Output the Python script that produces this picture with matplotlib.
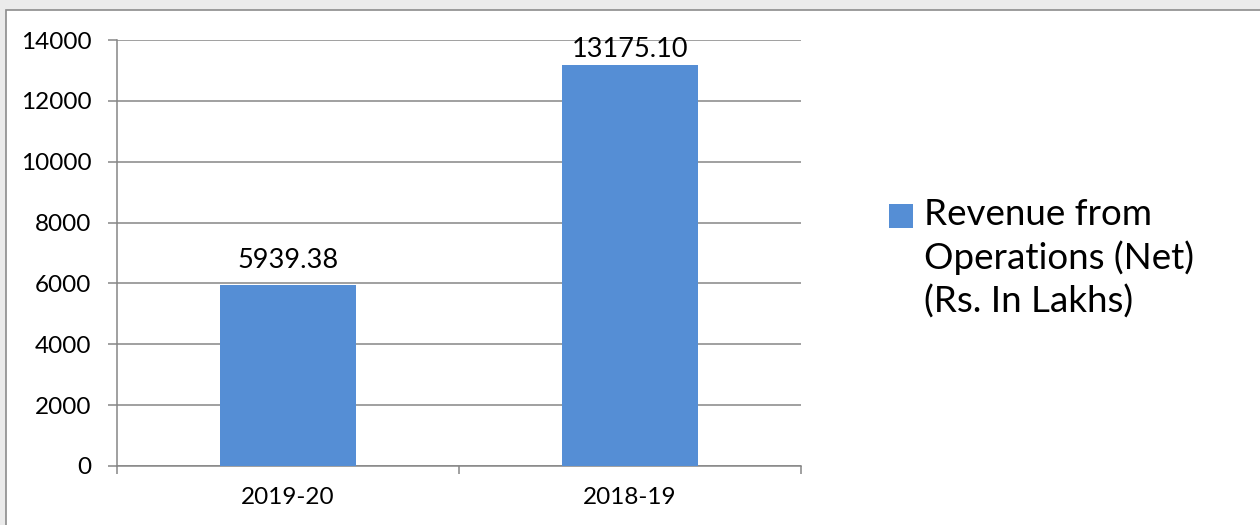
import matplotlib
matplotlib.use("Agg")
import matplotlib.pyplot as plt
from matplotlib.patches import Rectangle

plt.rcParams['font.family'] = ['Lato', 'DejaVu Sans']

categories = ["2019-20", "2018-19"]
values = [5939.38, 13175.10]
value_labels = ["5939.38", "13175.10"]
yticks = [0, 2000, 4000, 6000, 8000, 10000, 12000, 14000]
series_name = "Revenue from\nOperations (Net)\n(Rs. In Lakhs)"

W, H = 1260, 525
fig = plt.figure(figsize=(W / 100, H / 100), dpi=100)
fig.patch.set_facecolor("#EBEBEB")
bg = Rectangle((6 / W, -0.1), 1.2, 1 - 10 / H + 0.1,
               transform=fig.transFigure, facecolor="white",
               edgecolor="#8C8C8C", linewidth=1.2, zorder=-10)
fig.add_artist(bg)

ax = fig.add_axes([117 / W, 1 - 466 / H, (801 - 117) / W, (466 - 40) / H])
ax.set_zorder(1)
ax.set_facecolor("none")
bar_color = "#558ED5"
x = list(range(len(categories)))
bars = ax.bar(x, values, width=0.4, color=bar_color, zorder=3)

ax.set_xlim(-0.5, len(categories) - 0.5)
ax.set_ylim(0, 14000)
ax.set_yticks(yticks)
ax.set_yticklabels([str(v) for v in yticks], fontsize=17.5)
ax.yaxis.grid(True, color="#868686", linewidth=1.1, zorder=0)
ax.set_axisbelow(True)

ax.set_xticks(x)
ax.set_xticklabels(categories, fontsize=17.5)
ax.set_xticks([i - 0.5 for i in range(len(categories) + 1)], minor=True)
ax.tick_params(axis="x", which="major", length=0, pad=15)
ax.tick_params(axis="x", which="minor", length=6, width=1.1, color="#868686")
ax.tick_params(axis="y", length=6.5, width=1.1, color="#868686", pad=12)

for s in ["top", "right"]:
    ax.spines[s].set_visible(False)
for s in ["left", "bottom"]:
    ax.spines[s].set_color("#868686")
    ax.spines[s].set_linewidth(1.1)

# the top label is pulled down to stay inside the plot area (as in the source)
label_offsets = [9, 2]
for b, lab, off in zip(bars, value_labels, label_offsets):
    ax.annotate(lab, (b.get_x() + b.get_width() / 2, b.get_height()),
                xytext=(0, off), textcoords="offset points",
                ha="center", va="bottom", fontsize=19.5, color="black",
                zorder=5)

# legend
fig.add_artist(Rectangle((889 / W, 1 - 228 / H), 24 / W, 24 / H,
                         transform=fig.transFigure, facecolor=bar_color,
                         edgecolor="none"))
fig.text(924 / W, 1 - 198 / H, series_name, fontsize=26.5, va="top", ha="left",
         linespacing=1.34, color="black")

fig.savefig("out.png", dpi=100, facecolor=fig.get_facecolor())
